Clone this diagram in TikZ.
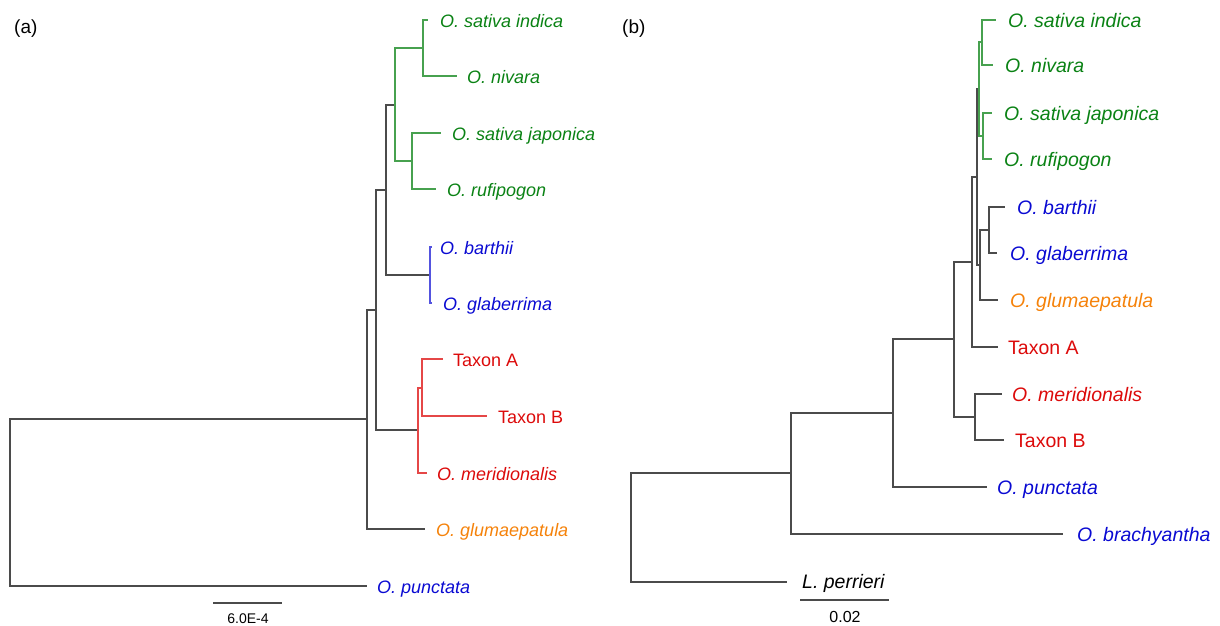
\documentclass[tikz,border=0pt]{standalone}
\usepackage{fontspec}
\setmainfont{Liberation Sans}
\definecolor{tgreen}{RGB}{10,130,20}
\definecolor{tblue}{RGB}{10,10,210}
\definecolor{tred}{RGB}{220,10,10}
\definecolor{torange}{RGB}{245,130,10}
\definecolor{lgray}{RGB}{75,75,75}
\begin{document}
\begin{tikzpicture}[x=1pt,y=-1pt,
  br/.style={line width=1.3pt, draw=lgray},
  gbr/.style={line width=1.2pt, draw=tgreen!75!white},
  bbr/.style={line width=1.2pt, draw=tblue!70!white},
  rbr/.style={line width=1.2pt, draw=tred!75!white},
  lab/.style={anchor=base west, inner sep=0pt, font=\fontsize{18}{20}\selectfont\itshape},
  labb/.style={anchor=base west, inner sep=0pt, font=\fontsize{19.5}{22}\selectfont\itshape},
  up/.style={font=\fontsize{18}{20}\selectfont\upshape},
  upb/.style={font=\fontsize{19.5}{22}\selectfont\upshape},
  panel/.style={anchor=west, inner sep=0pt, font=\fontsize{19}{22}\selectfont},
  scl/.style={inner sep=0pt, font=\fontsize{14}{16}\selectfont}
]
\useasboundingbox (0,0) rectangle (1220,625);

% ================= (a) =================
\node[panel] (pa) at (14,29) {(a)};
% internal nodes
\coordinate (aR)  at (10,503);
\coordinate (aN1) at (367,419);
\coordinate (aN2) at (376,310);
\coordinate (aN3) at (386,190);
\coordinate (aG)  at (395,105);
\coordinate (aG1) at (423,48);
\coordinate (aG2) at (412,161);
\coordinate (aBl) at (430,275);
\coordinate (aRd) at (418,430);
\coordinate (aRA) at (422,388);
% tips
\coordinate (atInd) at (428,20);
\coordinate (atNiv) at (457,76);
\coordinate (atJap) at (441,133);
\coordinate (atRuf) at (436,189);
\coordinate (atBar) at (432,247);
\coordinate (atGla) at (432,303);
\coordinate (atTA)  at (443,359);
\coordinate (atTB)  at (487,416);
\coordinate (atMer) at (427,473);
\coordinate (atGlu) at (425,529);
\coordinate (atPun) at (367,586);
% branches
\draw[br] (aR) |- (aN1);
\draw[br] (aR) |- (atPun);
\draw[br] (aN1) |- (aN2);
\draw[br] (aN1) |- (atGlu);
\draw[br] (aN2) |- (aN3);
\draw[br] (aN2) |- (aRd);
\draw[br] (aN3) |- (aG);
\draw[br] (aN3) |- (aBl);
\draw[gbr] (aG) |- (aG1);
\draw[gbr] (aG) |- (aG2);
\draw[gbr] (aG1) |- (atInd);
\draw[gbr] (aG1) |- (atNiv);
\draw[gbr] (aG2) |- (atJap);
\draw[gbr] (aG2) |- (atRuf);
\draw[bbr] (aBl) |- (atBar);
\draw[bbr] (aBl) |- (atGla);
\draw[rbr] (aRd) |- (aRA);
\draw[rbr] (aRd) |- (atMer);
\draw[rbr] (aRA) |- (atTA);
\draw[rbr] (aRA) |- (atTB);
% labels
\node[lab, text=tgreen] (alInd) at (440,27) {O. sativa indica};
\node[lab, text=tgreen] (alNiv) at (467,83) {O. nivara};
\node[lab, text=tgreen] (alJap) at (452,140) {O. sativa japonica};
\node[lab, text=tgreen] (alRuf) at (447,196) {O. rufipogon};
\node[lab, text=tblue] (alBar) at (440,254) {O. barthii};
\node[lab, text=tblue] (alGla) at (443,310) {O. glaberrima};
\node[lab, up, text=tred] (alTA) at (453,366) {Taxon A};
\node[lab, up, text=tred] (alTB) at (498,423) {Taxon B};
\node[lab, text=tred] (alMer) at (437,480) {O. meridionalis};
\node[lab, text=torange] (alGlu) at (436,536) {O. glumaepatula};
\node[lab, text=tblue] (alPun) at (377,593) {O. punctata};
% scale bar
\coordinate (asL) at (213,603);
\coordinate (asR) at (282,603);
\draw[br] (asL) -- (asR);
\node[scl] (asT) at (248,619) {6.0E-4};

% ================= (b) =================
\node[panel] (pb) at (622,29) {(b)};
\coordinate (bR)  at (631,527);
\coordinate (bB1) at (791,473);
\coordinate (bB2) at (893,413);
\coordinate (bB3) at (954,339);
\coordinate (bB4) at (972,262);
\coordinate (bB5) at (975,417);
\coordinate (bB6) at (977,177);
\coordinate (bGb) at (979,89);
\coordinate (bG1) at (982,42);
\coordinate (bG2) at (983,136);
\coordinate (bB7) at (980,265);
\coordinate (bBb) at (989,230);
% tips
\coordinate (btInd) at (996,20);
\coordinate (btNiv) at (993,65);
\coordinate (btJap) at (992,113);
\coordinate (btRuf) at (992,159);
\coordinate (btBar) at (1005,207);
\coordinate (btGla) at (997,253);
\coordinate (btGlu) at (998,300);
\coordinate (btTA)  at (998,347);
\coordinate (btMer) at (1002,394);
\coordinate (btTB)  at (1004,440);
\coordinate (btPun) at (987,487);
\coordinate (btBra) at (1063,534);
\coordinate (btLp)  at (787,582);
% branches
\draw[br] (bR) |- (bB1);
\draw[br] (bR) |- (btLp);
\draw[br] (bB1) |- (bB2);
\draw[br] (bB1) |- (btBra);
\draw[br] (bB2) |- (bB3);
\draw[br] (bB2) |- (btPun);
\draw[br] (bB3) |- (bB4);
\draw[br] (bB3) |- (bB5);
\draw[br] (bB5) |- (btMer);
\draw[br] (bB5) |- (btTB);
\draw[br] (bB4) |- (bB6);
\draw[br] (bB4) |- (btTA);
\draw[br] (bB6) |- (bGb);
\draw[br] (bB6) |- (bB7);
\draw[gbr] (bGb) |- (bG1);
\draw[gbr] (bGb) |- (bG2);
\draw[gbr] (bG1) |- (btInd);
\draw[gbr] (bG1) |- (btNiv);
\draw[gbr] (bG2) |- (btJap);
\draw[gbr] (bG2) |- (btRuf);
\draw[br] (bB7) |- (bBb);
\draw[br] (bB7) |- (btGlu);
\draw[br] (bBb) |- (btBar);
\draw[br] (bBb) |- (btGla);
% labels
\node[labb, text=tgreen] (blInd) at (1008,27) {O. sativa indica};
\node[labb, text=tgreen] (blNiv) at (1005,72) {O. nivara};
\node[labb, text=tgreen] (blJap) at (1004,120) {O. sativa japonica};
\node[labb, text=tgreen] (blRuf) at (1004,166) {O. rufipogon};
\node[labb, text=tblue] (blBar) at (1017,214) {O. barthii};
\node[labb, text=tblue] (blGla) at (1010,260) {O. glaberrima};
\node[labb, text=torange] (blGlu) at (1010,307) {O. glumaepatula};
\node[labb, upb, text=tred] (blTA) at (1008,354) {Taxon A};
\node[labb, text=tred] (blMer) at (1012,401) {O. meridionalis};
\node[labb, upb, text=tred] (blTB) at (1015,447) {Taxon B};
\node[labb, text=tblue] (blPun) at (997,494) {O. punctata};
\node[labb, text=tblue] (blBra) at (1077,541) {O. brachyantha};
\node[labb, text=black] (blLp) at (802,588) {L. perrieri};
% scale bar
\coordinate (bsL) at (800,600);
\coordinate (bsR) at (889,600);
\draw[br] (bsL) -- (bsR);
\node[scl, font=\fontsize{16}{18}\selectfont] (bsT) at (845,617) {0.02};
\end{tikzpicture}
\end{document}
